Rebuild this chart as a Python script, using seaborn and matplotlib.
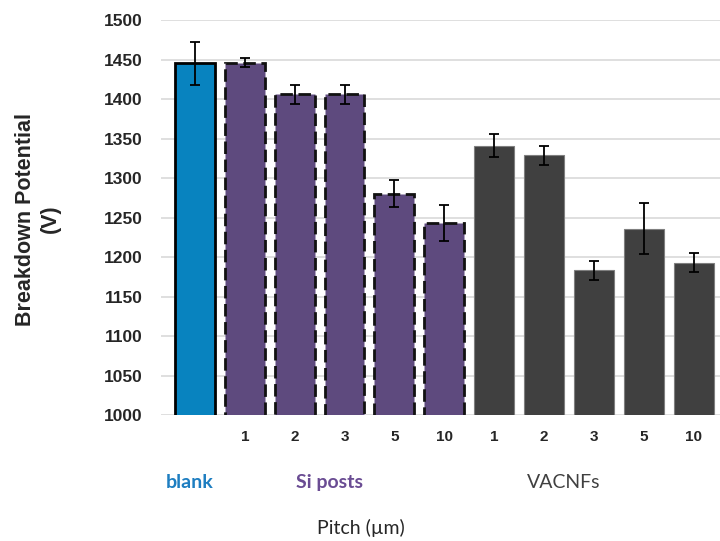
import matplotlib
matplotlib.use("Agg")
import matplotlib.pyplot as plt
import seaborn as sns
import pandas as pd
import numpy as np

# ---- data ----
categories = ["blank", "Si 1", "Si 2", "Si 3", "Si 5", "Si 10",
              "VACNF 1", "VACNF 2", "VACNF 3", "VACNF 5", "VACNF 10"]
groups = ["blank", "Si posts", "Si posts", "Si posts", "Si posts", "Si posts",
          "VACNFs", "VACNFs", "VACNFs", "VACNFs", "VACNFs"]
tick_labels = ["", "1", "2", "3", "5", "10", "1", "2", "3", "5", "10"]
values = [1445, 1446, 1406, 1406, 1280, 1243, 1341, 1329, 1183, 1236, 1193]
errors = [27, 6, 12, 12, 17, 23, 15, 12, 12, 32, 12]
group_names = ["blank", "Si posts", "VACNFs"]
group_colors = {"blank": "#0883BF", "Si posts": "#5E4A7E", "VACNFs": "#404040"}
label_colors = {"blank": "#1E7EC1", "Si posts": "#6A4C93", "VACNFs": "#404040"}

df = pd.DataFrame({"cat": categories, "group": groups, "value": values})

sns.set_style("white")
fig = plt.figure(figsize=(7.2, 5.41), dpi=100)
ax = fig.add_axes([0.2236, 0.2329, 0.7764, 0.7301])

sns.barplot(data=df, x="cat", y="value", hue="group", order=categories,
            palette=group_colors, dodge=False, width=0.8, legend=False, ax=ax,
            errorbar=None, saturation=1, zorder=2)

# edge styles
for patch, g in zip(ax.patches, groups):
    if g == "blank":
        patch.set_edgecolor("black"); patch.set_linewidth(2.0); patch.set_linestyle("-")
    elif g == "Si posts":
        patch.set_edgecolor("#111111"); patch.set_linewidth(2.0)
        patch.set_linestyle((0, (4.5, 2)))
    else:
        patch.set_edgecolor("#7F7F7F"); patch.set_linewidth(0.8)

x = np.arange(len(categories))
ax.errorbar(x, values, yerr=errors, fmt="none", ecolor="black",
            elinewidth=1.3, capsize=3.5, capthick=1.3, zorder=3)

ax.set_ylim(1000, 1500)
ax.set_xlim(-0.68, 10.53)
ax.set_yticks(np.arange(1000, 1501, 50))
ax.yaxis.grid(True, color="#D9D9D9", linewidth=1.2, zorder=0)
ax.set_axisbelow(True)
for s in ax.spines.values():
    s.set_visible(False)

ax.set_xticks(x)
ax.set_xticklabels(tick_labels, fontsize=11, fontweight="bold",
                   family="Liberation Sans")
ax.tick_params(axis="x", length=0, pad=11)
ax.tick_params(axis="y", length=0, pad=13)
for lab in ax.get_yticklabels():
    lab.set_fontsize(12.5); lab.set_family("Liberation Sans"); lab.set_fontweight("bold")

ax.set_xlabel("")
ax.set_ylabel("")

fig.text(0.053, 0.595, "Breakdown Potential\n(V)", rotation=90, ha="center",
         va="center", fontsize=15.5, fontweight="bold", family="Liberation Sans",
         linespacing=1.25)

# group labels
group_pos = {"blank": -0.1, "Si posts": 2.7, "VACNFs": 7.4}
for g in group_names:
    ax.text(group_pos[g], -0.17, g, transform=ax.get_xaxis_transform(),
            ha="center", va="center", fontsize=14, color=label_colors[g],
            family="Lato", fontweight="bold" if g != "VACNFs" else "normal")

fig.text(0.501, 0.024, "Pitch (µm)", ha="center", va="center", fontsize=14,
         family="Lato")

fig.savefig("out.png", dpi=100)
